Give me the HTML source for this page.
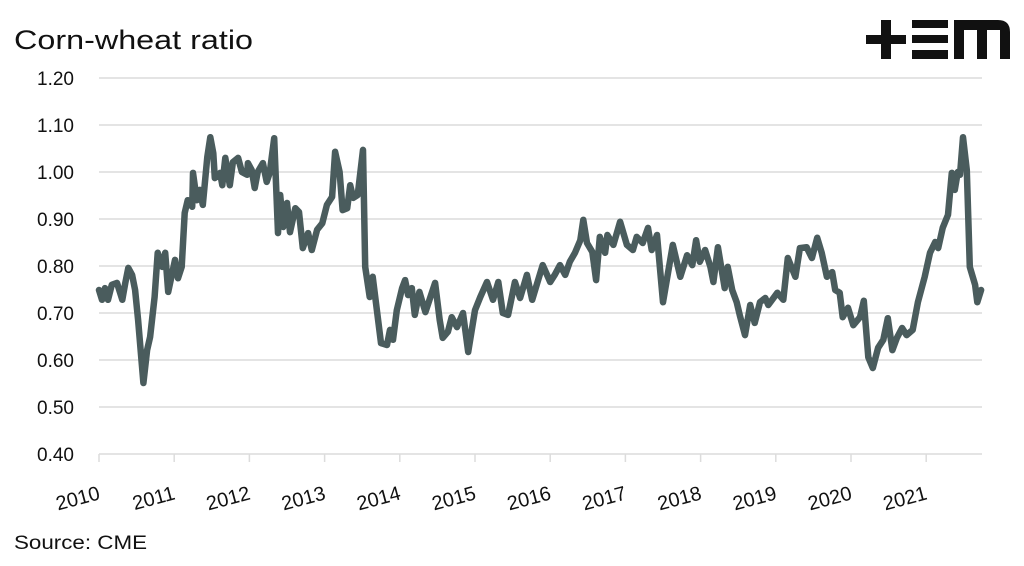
<!DOCTYPE html>
<html><head><meta charset="utf-8"><style>
html,body{margin:0;padding:0;background:#fff;}
body{width:1024px;height:561px;overflow:hidden;font-family:"Liberation Sans",sans-serif;}
</style></head><body>
<svg width="1024" height="561" viewBox="0 0 1024 561">
<text x="14" y="49" font-size="27" textLength="239" lengthAdjust="spacingAndGlyphs" fill="#111">Corn-wheat ratio</text>
<g fill="#111">
<rect x="866" y="35" width="40" height="9"/><rect x="881" y="20" width="10" height="39"/>
<rect x="912" y="20" width="36" height="8"/><rect x="912" y="35" width="36" height="8"/><rect x="912" y="50" width="36" height="9"/>
<path d="M954 59V20h44q12 0 12 12v27h-10V30h-13v29h-10V30h-13v29z"/>
</g>
<g id="grid"></g><g id="yl"></g><g id="xl"></g>
<path id="line" fill="none" stroke="#4a5c5d" stroke-width="6.5" stroke-linejoin="round" stroke-linecap="round"/>
<text x="14" y="549" font-size="19" textLength="133" lengthAdjust="spacingAndGlyphs" fill="#111">Source: CME</text>
</svg>
<script>
const yTicks=[0.4,0.5,0.6,0.7,0.8,0.9,1.0,1.1,1.2];
const xYears=[2010,2011,2012,2013,2014,2015,2016,2017,2018,2019,2020,2021];
const dates=[2010.00,2010.04,2010.08,2010.12,2010.17,2010.24,2010.31,2010.35,2010.39,2010.44,2010.48,2010.52,2010.59,2010.64,2010.68,2010.74,2010.78,2010.84,2010.88,2010.92,2011.01,2011.05,2011.10,2011.14,2011.18,2011.24,2011.25,2011.30,2011.34,2011.38,2011.44,2011.48,2011.52,2011.54,2011.61,2011.64,2011.68,2011.74,2011.78,2011.85,2011.90,2011.97,2011.98,2012.03,2012.07,2012.11,2012.18,2012.23,2012.27,2012.33,2012.38,2012.41,2012.45,2012.50,2012.54,2012.61,2012.66,2012.71,2012.78,2012.83,2012.90,2012.97,2013.03,2013.10,2013.14,2013.20,2013.24,2013.30,2013.34,2013.38,2013.44,2013.51,2013.54,2013.60,2013.64,2013.75,2013.83,2013.87,2013.91,2013.96,2014.03,2014.07,2014.11,2014.16,2014.20,2014.26,2014.34,2014.47,2014.53,2014.57,2014.64,2014.69,2014.76,2014.84,2014.91,2015.00,2015.07,2015.16,2015.24,2015.31,2015.37,2015.44,2015.53,2015.60,2015.69,2015.76,2015.82,2015.90,2016.00,2016.06,2016.13,2016.20,2016.26,2016.33,2016.40,2016.44,2016.49,2016.56,2016.61,2016.66,2016.73,2016.76,2016.84,2016.93,2017.02,2017.10,2017.15,2017.23,2017.30,2017.35,2017.42,2017.50,2017.63,2017.73,2017.82,2017.89,2017.94,2017.99,2018.06,2018.13,2018.17,2018.23,2018.32,2018.36,2018.42,2018.48,2018.52,2018.59,2018.66,2018.72,2018.79,2018.86,2018.90,2019.02,2019.10,2019.16,2019.26,2019.32,2019.41,2019.48,2019.55,2019.61,2019.68,2019.75,2019.79,2019.85,2019.89,2019.96,2020.03,2020.12,2020.17,2020.23,2020.29,2020.36,2020.43,2020.49,2020.55,2020.61,2020.68,2020.74,2020.82,2020.89,2020.98,2021.05,2021.12,2021.16,2021.22,2021.29,2021.34,2021.38,2021.42,2021.45,2021.49,2021.54,2021.58,2021.65,2021.68,2021.73];
const values=[.749,.728,.753,.728,.760,.764,.728,.764,.796,.781,.749,.685,.551,.621,.649,.734,.828,.798,.828,.745,.813,.774,.798,.913,.940,.926,.998,.940,.962,.930,1.032,1.074,1.040,.987,.998,.972,1.030,.972,1.021,1.030,1.000,.994,1.019,1.004,.966,1.000,1.019,.979,.998,1.072,.870,.951,.883,.934,.872,.923,.915,.838,.870,.834,.877,.891,.930,.947,1.043,1.000,.919,.923,.972,.945,.951,1.047,.798,.734,.777,.636,.632,.664,.643,.706,.753,.770,.738,.753,.696,.745,.702,.764,.685,.647,.660,.691,.670,.700,.617,.706,.734,.766,.728,.766,.700,.696,.766,.732,.781,.728,.760,.802,.766,.781,.802,.781,.809,.828,.855,.898,.849,.830,.770,.862,.828,.866,.845,.894,.845,.834,.862,.849,.881,.834,.866,.723,.845,.777,.823,.802,.855,.809,.834,.798,.766,.840,.753,.798,.749,.723,.696,.653,.717,.679,.723,.732,.717,.743,.728,.817,.777,.838,.840,.817,.860,.828,.777,.787,.749,.743,.691,.711,.674,.691,.726,.606,.583,.626,.643,.689,.621,.647,.668,.653,.664,.723,.777,.828,.851,.838,.881,.909,.998,.962,1.000,.994,1.074,1.004,.798,.760,.723,.749];
const NS='http://www.w3.org/2000/svg';
const X0=99,X1=982,Y0=454,Y1=78;
const xs=t=>X0+(t-2010)*75.2;
const ys=v=>Y0-(v-0.4)/0.8*(Y0-Y1);
const grid=document.getElementById('grid'),yl=document.getElementById('yl'),xl=document.getElementById('xl');
function mk(tag,a){const e=document.createElementNS(NS,tag);for(const k in a)e.setAttribute(k,a[k]);return e;}
yTicks.forEach(v=>{
 const l=mk('line',{x1:X0,x2:X1,y1:ys(v),y2:ys(v),stroke:'#dcdcdc','stroke-width':1.5});
 
 
 grid.appendChild(l);
 const t=mk('text',{x:74,y:ys(v)+7,'text-anchor':'end','font-size':19,fill:'#111'});
 t.textContent=v.toFixed(2);
 
 
 yl.appendChild(t);
});
xYears.forEach(y=>{
 const x=xs(y)+2;
 const k=mk('line',{x1:xs(y),x2:xs(y),y1:Y0,y2:Y0+8,stroke:'#dcdcdc','stroke-width':1.5});
 
 
 grid.appendChild(k);
 const t=mk('text',{x:x,y:Y0+45,'text-anchor':'end','font-size':20,fill:'#111',transform:'rotate(-15 '+x+' '+(Y0+45)+')'});
 t.textContent=y;
 
 
 xl.appendChild(t);
});
document.getElementById('line').setAttribute('d',dates.map((d,i)=>(i?'L':'M')+xs(d).toFixed(1)+' '+ys(values[i]).toFixed(1)).join(''));
</script>
</body></html>
